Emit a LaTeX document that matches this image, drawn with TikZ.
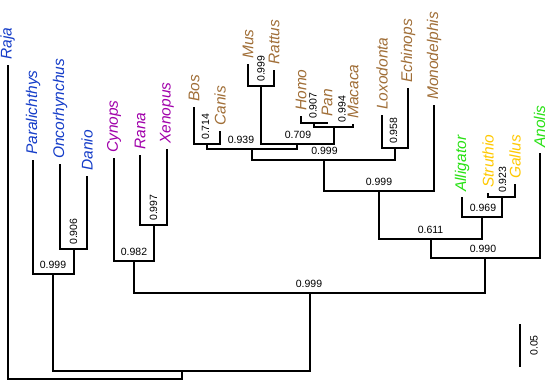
\documentclass[tikz,border=0pt]{standalone}
\usepackage{fontspec}
\setmainfont{Liberation Sans}
\usepackage{xcolor}
\usetikzlibrary{calc}
\definecolor{fishc}{RGB}{20,60,200}
\definecolor{amphc}{RGB}{160,0,170}
\definecolor{mammc}{RGB}{160,110,55}
\definecolor{reptc}{RGB}{40,225,20}
\definecolor{birdc}{RGB}{255,200,0}

\begin{document}
\begin{tikzpicture}[x=1pt,y=-1pt,
  branch/.style={line width=2pt},
  taxon/.style={rotate=90,anchor=west,inner sep=0pt,font=\fontsize{15.5}{18}\selectfont\itshape},
  supp/.style={inner sep=0pt,font=\fontsize{10.5}{12}\selectfont},
  supph/.style={supp,anchor=south},
  suppv/.style={supp,rotate=90,anchor=west}]
\useasboundingbox (0,0) rectangle (547,381);
% tips
\foreach \n/\x/\y/\t/\c in {raja/7.5/65/Raja/fishc, para/33/160/Paralichthys/fishc,
  onco/60/164/Oncorhynchus/fishc, danio/87/176/Danio/fishc,
  cynops/114/158/Cynops/amphc, rana/140/155/Rana/amphc, xenopus/167/149/Xenopus/amphc,
  bos/194/107/Bos/mammc, canis/220/131/Canis/mammc, mus/248/64/Mus/mammc,
  rattus/274/70/Rattus/mammc, homo/301/116/Homo/mammc, pan/327/122/Pan/mammc,
  macaca/353/124/Macaca/mammc, loxo/382/115/Loxodonta/mammc, echinops/408/88/Echinops/mammc,
  monod/434/105/Monodelphis/mammc, alligator/462/197/Alligator/reptc,
  struthio/488/193/Struthio/birdc, gallus/515/184/Gallus/birdc, anolis/539.5/153/Anolis/reptc}{
  \coordinate (\n) at (\x,\y);
  \node[taxon,text=\c] (\n-t) at ([yshift=5pt]\n) {\t};}
% inner nodes
\foreach \n/\x/\y in {n906/73.5/249, n999a/53/274, n997/153.5/225, n982/134/261,
  n714/207/144, n999b/261/86, n907/314/123, n994/333.5/126.5, n709/297/144,
  n939/252/149, n958/395/148, n999c/323.5/159.5, n999d/379/191, n923/501.5/197,
  n969/482/217, n611/430.5/239, n990/485/257.5, n999e/310/292.5, n0/181.5/371, root/94/379}
  \coordinate (\n) at (\x,\y);
\foreach \a/\p/\b in {onco/n906/danio, para/n999a/n906, rana/n997/xenopus, cynops/n982/n997,
  bos/n714/canis, mus/n999b/rattus, homo/n907/pan, n907/n994/macaca, n999b/n709/n994,
  n714/n939/n709, loxo/n958/echinops, n939/n999c/n958, n999c/n999d/monod,
  struthio/n923/gallus, alligator/n969/n923, n999d/n611/n969, n611/n990/anolis,
  n982/n999e/n990, n999a/n0/n999e, raja/root/n0}
  \draw[branch] (\a) |- (\p) -| (\b);
% support values
\foreach \p/\v/\dx in {n999a/0.999/0, n982/0.982/0, n939/0.939/-11, n709/0.709/1,
  n999c/0.999/1, n999d/0.999/0, n969/0.969/1, n611/0.611/0, n990/0.990/-2, n999e/0.999/-1}
  \node[supph] (\p-l) at ([xshift=\dx pt,yshift=5pt]\p) {\v};
\foreach \p/\v/\dx in {n906/0.906/0, n997/0.997/0, n714/0.714/-1.5, n999b/0.999/0,
  n907/0.907/-1, n994/0.994/8.5, n958/0.958/-1.5, n923/0.923/1}
  \node[suppv] (\p-l) at ([xshift=\dx pt,yshift=4pt]\p) {\v};
% scale bar
\coordinate (sb1) at (520,324);
\coordinate (sb2) at (520,367);
\draw[branch] (sb1) -- (sb2);
\node[supp,rotate=90,anchor=north] (sbl) at ([xshift=10pt]$(sb1)!0.5!(sb2)$) {0.05};
\end{tikzpicture}
\end{document}
